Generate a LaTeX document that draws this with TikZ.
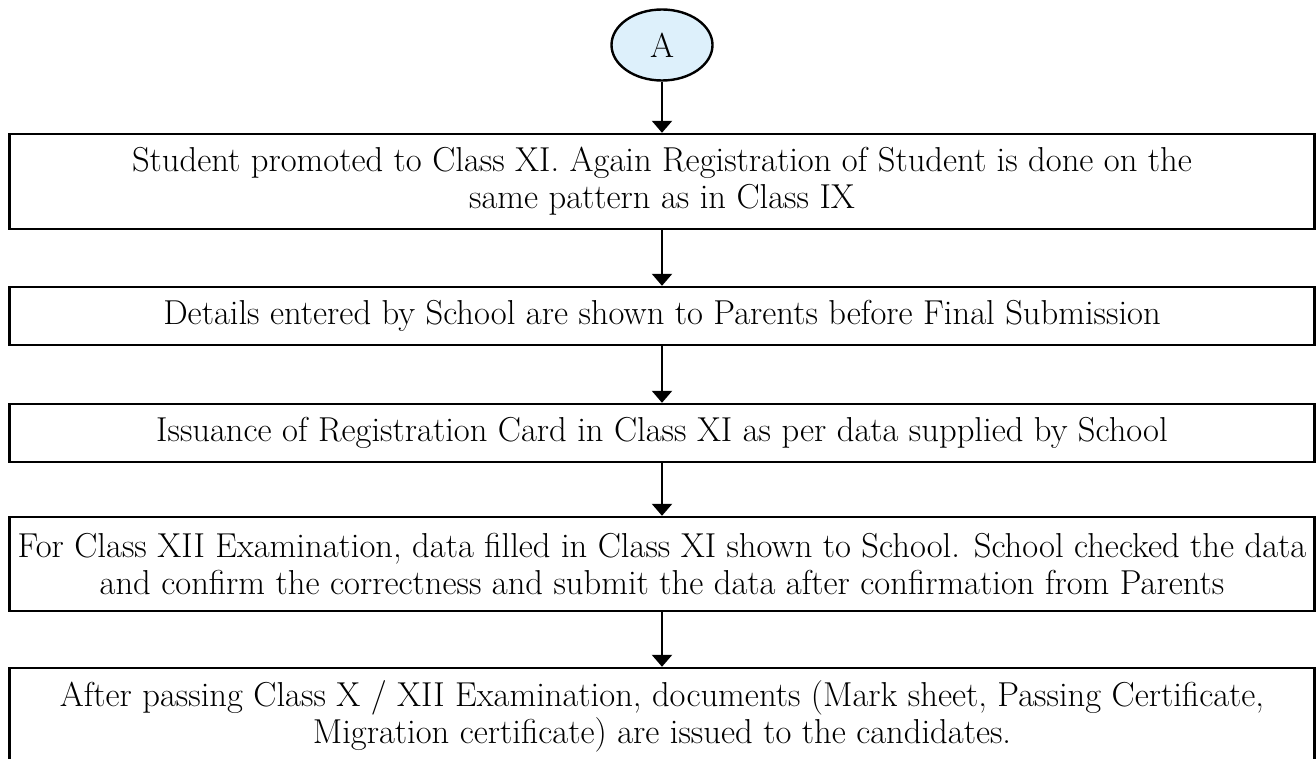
\documentclass[tikz,border=0pt]{standalone}
\usetikzlibrary{arrows.meta}
\usetikzlibrary{shapes.geometric}

\definecolor{bubbleblue}{HTML}{DDF0FB}
\tikzset{
  flowbox/.style={draw, line width=1.2pt, rectangle, inner sep=0pt, minimum width=652.5pt, align=center, font=\fontsize{17.3}{18.5}\selectfont},
  flowarrow/.style={-{Triangle[length=6pt, width=10pt]}, line width=1.2pt},
}

\begin{document}
\begin{tikzpicture}[x=0.5pt, y=-0.5pt]
      \useasboundingbox (0, 0) rectangle (1316, 759);

      \node[ellipse, draw, line width=1.2pt, fill=bubbleblue, inner sep=0pt, minimum width=50.5pt, minimum height=35.5pt, font=\fontsize{17.3}{18.5}\selectfont] (a) at (662, 45) {A};

      \node[flowbox, minimum height=47.5pt] (s1) at (662, 181.5) {Student promoted to Class XI. Again Registration of Student is done on the \\ same pattern as in Class IX};
      \node[flowbox, minimum height=29pt] (s2) at (662, 316) {Details entered by School are shown to Parents before Final Submission};
      \node[flowbox, minimum height=29pt] (s3) at (662, 433) {Issuance of Registration Card in Class XI as per data supplied by School};
      \node[flowbox, minimum height=47pt] (s4) at (662, 564) {For Class XII Examination, data filled in Class XI shown to School. School checked the data \\ and confirm the correctness and submit the data after confirmation from Parents};
      \node[flowbox, minimum height=48pt] (s5) at (662, 716) {After passing Class X / XII Examination, documents (Mark sheet, Passing Certificate, \\ Migration certificate) are issued to the candidates.};

      \draw[flowarrow] (a) -- (s1);
      \draw[flowarrow] (s1) -- (s2);
      \draw[flowarrow] (s2) -- (s3);
      \draw[flowarrow] (s3) -- (s4);
      \draw[flowarrow] (s4) -- (s5);
    \end{tikzpicture}
\end{document}
